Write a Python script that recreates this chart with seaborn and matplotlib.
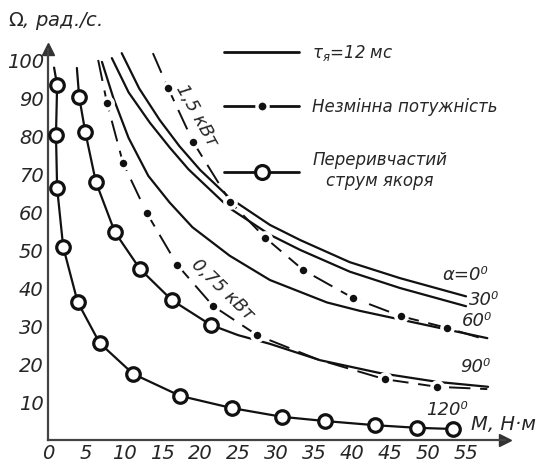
import matplotlib.pyplot as plt
import pandas as pd
import seaborn as sns
from matplotlib.lines import Line2D

# mechanical characteristics: torque M (N*m) vs speed Omega (rad/s), tau_a = 12 ms
m_a0 = [9.7, 12.0, 14.7, 17.3, 20.0, 23.9, 29.2, 33.2, 39.7, 46.3, 55.0]
w_a0 = [101.8, 92.5, 84.2, 77.3, 71.1, 63.7, 56.6, 52.6, 46.8, 42.6, 37.8]

m_a30 = [8.4, 10.6, 13.4, 16.0, 18.5, 23.9, 29.2, 33.2, 39.7, 46.3, 55.0]
w_a30 = [100.5, 91.5, 83.5, 77.0, 71.2, 61.0, 54.0, 50.0, 44.3, 40.0, 35.2]

m_a60 = [7.1, 8.6, 10.6, 13.2, 16.0, 19.0, 23.9, 29.2, 36.7, 41.0, 48.0, 57.8]
w_a60 = [99.5, 90.0, 79.5, 69.5, 62.5, 56.0, 48.5, 42.1, 36.2, 34.0, 31.0, 26.8]

# alpha = 90: intermittent armature current part (circles), then continuous
m_a90_start, w_a90_start = [3.8], [97.9]
m_a90_circ = [4.1, 4.9, 6.3, 8.8, 12.1, 16.3, 21.4]
w_a90_circ = [90.3, 81.1, 67.9, 54.7, 45.0, 36.8, 30.3]
m_a90_tail = [25.0, 29.2, 35.8, 43.7, 51.2, 57.9]
w_a90_tail = [27.6, 25.3, 21.0, 17.6, 15.3, 14.0]

# alpha = 120: intermittent current over the whole range
m_a120_start, w_a120_start = [0.8], [98.0]
m_a120_circ = [1.2, 1.05, 1.2, 2.0, 3.9, 6.8, 11.2, 17.4, 24.2, 30.8, 36.4, 43.0, 48.6, 53.3]
w_a120_circ = [93.4, 80.3, 66.3, 50.8, 36.3, 25.5, 17.4, 11.6, 8.4, 6.1, 5.0, 3.9, 3.2, 2.9]

# constant power curves
m_p15_dots = [15.8, 19.1, 24.0, 28.6, 33.6, 40.1, 46.4, 52.5]
w_p15_dots = [92.6, 78.4, 62.6, 53.2, 44.7, 37.4, 32.6, 29.5]
m_p15_ends = [13.8, 57.8]
w_p15_ends = [101.8, 26.3]

m_p075_dots = [7.76, 9.87, 13.0, 17.0, 21.7, 27.5, 44.3, 51.2]
w_p075_dots = [88.7, 72.9, 59.7, 46.1, 35.3, 27.6, 16.0, 14.0]
m_p075_path = [6.6, 35.5, 57.8]
w_p075_path = [100.0, 21.2, 13.4]

x_ticks = list(range(0, 60, 5))
y_ticks = list(range(10, 101, 10))

sns.set_style("white")
plt.rcParams["font.family"] = ["DejaVu Sans"]
plt.rcParams["mathtext.fontset"] = "dejavusans"

fig = plt.figure(figsize=(5.39, 4.68), dpi=100)
ax = fig.add_axes([48 / 539, 28 / 468, 456.8 / 539, 391.4 / 468])

ink = "#111111"
lw = 1.6


def curve(m, w, **kw):
    sns.lineplot(x=m, y=w, ax=ax, sort=False, estimator=None, color=ink,
                 lw=kw.pop("lw", lw), **kw)


curve(m_a0, w_a0)
curve(m_a30, w_a30)
curve(m_a60, w_a60)
curve(m_a90_start + m_a90_circ + m_a90_tail, w_a90_start + w_a90_circ + w_a90_tail)
curve(m_a120_start + m_a120_circ, w_a120_start + w_a120_circ)

# dashed constant power lines
p15 = pd.DataFrame({"m": m_p15_ends[:1] + m_p15_dots + m_p15_ends[1:],
                    "w": w_p15_ends[:1] + w_p15_dots + w_p15_ends[1:]})
curve(p15["m"], p15["w"], lw=1.4, linestyle=(0, (11, 5)))
p075 = pd.DataFrame({"m": m_p075_path[:1] + m_p075_dots[:6] + m_p075_path[1:2]
                     + m_p075_dots[6:] + m_p075_path[2:],
                     "w": w_p075_path[:1] + w_p075_dots[:6] + w_p075_path[1:2]
                     + w_p075_dots[6:] + w_p075_path[2:]})
curve(p075["m"], p075["w"], lw=1.4, linestyle=(0, (11, 5)))

for m, w in [(m_p15_dots, w_p15_dots), (m_p075_dots, w_p075_dots)]:
    ax.plot(m, w, "o", ms=8, mfc=ink, mec="white", mew=2.6, zorder=4)

for m, w in [(m_a90_circ, w_a90_circ), (m_a120_circ, w_a120_circ)]:
    sns.scatterplot(x=m, y=w, ax=ax, s=95, marker="o", facecolor="white",
                    edgecolor=ink, linewidth=2.3, zorder=5)

ax.set_xlabel("")
ax.set_ylabel("")
ax.set_xlim(0, 60.1)
ax.set_ylim(0, 103)
ax.set_xticks(x_ticks, labels=[str(t) for t in x_ticks])
ax.set_yticks(y_ticks, labels=[str(t) for t in y_ticks])
ax.tick_params(direction="in", length=6, width=1.4, color="#444444",
               labelsize=14, pad=3)
for lab in ax.get_xticklabels() + ax.get_yticklabels():
    lab.set_fontstyle("italic")
for side in ["top", "right"]:
    ax.spines[side].set_visible(False)
for side in ["left", "bottom"]:
    ax.spines[side].set_linewidth(1.6)
    ax.spines[side].set_color("#444444")
ax.plot(1, 0, ">", color="#333333", ms=9, transform=ax.get_yaxis_transform(),
        clip_on=False)
ax.plot(0, 1, "^", color="#333333", ms=9, transform=ax.get_xaxis_transform(),
        clip_on=False)

fig.text(8 / 539, 1 - 21 / 468, r"$\Omega$, рад./с.", fontsize=14,
         style="italic", ha="left", va="center")
ax.text(55.6, 4.0, "M, Н·м", fontsize=14, style="italic", ha="left", va="center")

tk = dict(fontsize=13, style="italic", ha="center", va="center")
ax.text(54.9, 43.4, "α=0⁰", **tk)
ax.text(57.4, 36.8, "30⁰", **tk)
ax.text(56.4, 31.3, "60⁰", **tk)
ax.text(56.2, 19.2, "90⁰", **tk)
ax.text(52.5, 8.0, "120⁰", **tk)
ax.text(19.6, 85.5, "1,5 кВт", rotation=-61, rotation_mode="anchor", **tk)
ax.text(22.9, 39.5, "0,75 кВт", rotation=-44, rotation_mode="anchor", **tk)

handles = [
    Line2D([], [], color=ink, lw=2),
    Line2D([], [], color=ink, lw=2, marker="o", ms=8, mfc=ink, mec="white", mew=2.4),
    Line2D([], [], color=ink, lw=2, marker="o", ms=10, mfc="white", mec=ink, mew=2.3),
]
labels = [r"$\tau_{я}$=12 мс", "Незмінна потужність", "Переривчастий\nструм якоря"]
leg = ax.legend(handles, labels, loc="upper left", bbox_to_anchor=(224 / 539, 1 - 43 / 468),
                bbox_transform=fig.transFigure, frameon=False, numpoints=1,
                handlelength=4.5, handletextpad=0.8, labelspacing=2.1,
                borderpad=0, borderaxespad=0, prop={"size": 12, "style": "italic"})
leg.get_texts()[2].set_multialignment("center")

fig.savefig("out.png", dpi=100, facecolor="white")
